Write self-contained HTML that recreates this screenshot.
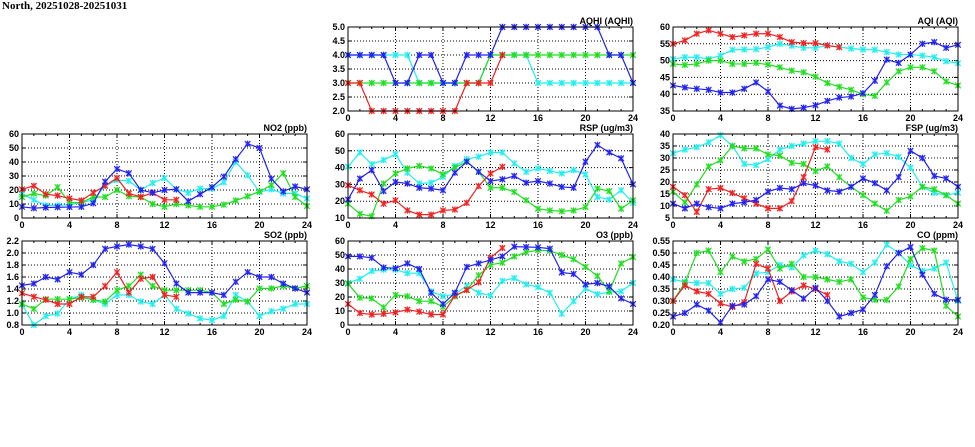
<!DOCTYPE html>
<html><head><meta charset="utf-8"><style>
html,body{margin:0;padding:0;background:#fff;width:975px;height:447px;overflow:hidden}
svg text{font-family:"Liberation Sans",sans-serif;font-weight:bold;font-size:9px;fill:#000}
</style></head><body>
<svg id="s" width="975" height="447" xmlns="http://www.w3.org/2000/svg">
<text x="2" y="9" style="font-family:'Liberation Serif',serif;font-size:11px">North, 20251028-20251031</text>
</svg>
<script>
const C={c:"#22eeee",g:"#22dd22",r:"#ee2222",b:"#2222ee"};
const panels=[
{t:"AQHI (AQHI)",x:348,y:27,lo:2,hi:5,st:0.5,f:1,d:{
c:[4,4,4,4,4,4,3,3,3,3,3,3,4,4,4,4,3,3,3,3,3,3,3,3,3],
g:[3,3,3,3,3,3,3,3,3,3,3,3,4,4,4,4,4,4,4,4,4,4,4,4,4],
r:[3,3,2,2,2,2,2,2,2,2,3,3,3,4],
b:[4,4,4,4,3,3,4,4,3,3,4,4,4,5,5,5,5,5,5,5,5,5,4,4,3]}},
{t:"AQI (AQI)",x:673,y:27,lo:35,hi:60,st:5,f:0,d:{
c:[50.5,51,51,50.5,51.5,53.2,53.3,53.4,54,55,54.4,53.8,53.8,54.5,54,53.6,53.3,53.2,52.5,51.8,51.8,51.5,51,49.8,49.2],
g:[49,48.7,49,50,50,49,49,49.3,48.8,48,47,46.5,45.2,43.3,42.2,41.3,40,39.5,43.5,46.8,48,48,46.8,43.8,42.6],
r:[55,56,58,59,58,57,57.5,58,58,57,55.5,55.2,55.2,54.5,54],
b:[42.6,42,41.6,41.3,40.5,40.5,41.6,43.5,40.8,36.6,35.6,36,36.7,38,39,39.3,40.3,44,50.3,49.3,51.8,55,55.5,53.8,54.7]}},
{t:"NO2 (ppb)",x:22,y:134,lo:0,hi:60,st:10,f:0,d:{
c:[17,13,9,9,9.5,11,13,23,27,26.5,20,25,28.5,20.5,18,21,21,25.5,40,30.5,18.5,20.5,17.5,17.5,14],
g:[15,17.5,16,22,11,11,15,15,20,15.5,15,10,8,10,9,8,8,9.5,12.5,15.5,19,23.5,32,15,8.5],
r:[20.5,23,17,16,14,12.5,18,23,28.5,17.5,15,18,13,13],
b:[8,7,7.5,7.7,7.8,8,10.5,26,35,32,20,18,20,20.5,12,17,22,29.5,42,53,50,28,19,22.5,20.5]}},
{t:"RSP (ug/m3)",x:348,y:134,lo:10,hi:60,st:10,f:0,d:{
c:[40.5,49,42,44.5,48,37,30.5,31,34.5,41,45,46.5,49,49,42.5,37.5,39.5,38,36.5,38.5,36,22.5,21,26.5,19],
g:[18.5,12.5,11,30.5,36.5,39.5,41,39.5,36,40,43.5,37.5,28,28,25.5,20.5,15.5,14.5,14,14.5,16.5,27.5,26,15.5,20.5],
r:[29.5,26.5,24,18.5,20.5,14.5,12,12,14.5,15,19,29,36.5,40.5],
b:[21,33.5,38.5,26,31.5,30.5,28,27.5,26.5,37,43.5,37.5,32,33,35,31,32,30.5,28.5,28,43.5,53.5,49,45.5,30]}},
{t:"FSP (ug/m3)",x:673,y:134,lo:5,hi:40,st:5,f:0,d:{
c:[32,33.5,34.5,36.5,39.5,35,27.5,27,29.5,33.5,35,36,37,37,36,30,27.5,31.5,32,30.5,26,18,15.5,14.5,15.5],
g:[16,11.5,19,26.5,29,35,34,34,31.5,31,28,27.5,24.5,26.5,22,18,14.5,11,8,12.5,14,18,17,14.5,11],
r:[18,14.5,7.5,17,17.5,15.4,13.2,11,9,9,12,22,34.5,33.5],
b:[11,9,11,9.5,9,11,11.5,12.5,16,17.5,17,19.5,18.5,16.5,16,18,21.5,19.5,16.5,22,33,30,22.5,21.5,18]}},
{t:"SO2 (ppb)",x:22,y:241,lo:0.8,hi:2.2,st:0.2,f:1,d:{
c:[1.14,0.8,0.95,0.99,1.23,1.3,1.22,1.15,1.3,1.3,1.19,1.15,1.3,1.07,0.99,0.91,0.88,0.95,1.3,1.19,0.95,1.03,1.07,1.15,1.15],
g:[1.15,1.07,1.23,1.23,1.23,1.26,1.22,1.19,1.38,1.45,1.64,1.45,1.38,1.38,1.38,1.38,1.34,1.15,1.22,1.19,1.41,1.41,1.45,1.41,1.45],
r:[1.33,1.27,1.22,1.15,1.15,1.27,1.27,1.45,1.68,1.34,1.57,1.6,1.3,1.27],
b:[1.46,1.49,1.6,1.56,1.68,1.64,1.8,2.07,2.11,2.14,2.11,2.07,1.83,1.49,1.34,1.34,1.34,1.3,1.52,1.68,1.6,1.6,1.49,1.41,1.34]}},
{t:"O3 (ppb)",x:348,y:241,lo:0,hi:60,st:10,f:0,d:{
c:[30,33,38.5,39.5,39.5,37,37,24,20.5,22,28,23,21,31.5,33.5,29,27,23,8,17,26,22,23.5,24,30],
g:[29.5,19.5,19,12.5,21.5,20.5,17,17,13,20.5,25,35.5,43,44.5,49,52,53.5,53,50,47,41.5,35,24,44,48.5],
r:[15,8.5,7.5,8,9,11,9.5,7.5,7.5,21,25,30.5,48,55],
b:[49,49,48,41,40.5,44,40,23,15,23,41.5,44,46.5,49,56,55.7,55.5,54.5,37.5,36.5,29,30,27.5,19,15]}},
{t:"CO (ppm)",x:673,y:241,lo:0.2,hi:0.55,st:0.05,f:2,d:{
c:[0.39,0.38,0.375,0.375,0.33,0.35,0.355,0.415,0.42,0.45,0.44,0.49,0.51,0.495,0.465,0.455,0.42,0.46,0.535,0.5,0.45,0.425,0.435,0.46,0.3],
g:[0.3,0.375,0.5,0.51,0.42,0.485,0.465,0.475,0.515,0.435,0.455,0.4,0.4,0.39,0.38,0.39,0.315,0.305,0.305,0.36,0.475,0.52,0.51,0.28,0.235],
r:[0.3,0.365,0.34,0.33,0.29,0.275,0.295,0.455,0.435,0.3,0.34,0.365,0.35,0.325],
b:[0.235,0.25,0.285,0.26,0.21,0.28,0.285,0.32,0.39,0.38,0.345,0.31,0.355,0.3,0.235,0.25,0.265,0.325,0.445,0.5,0.525,0.41,0.33,0.305,0.305]}}
];
const W=285,H=84;let o="";
for(const p of panels){
 const X=h=>p.x+h*W/24, Y=v=>p.y+H-(v-p.lo)/(p.hi-p.lo)*H;
 o+=`<text x="${p.x+W}" y="${p.y-3}" text-anchor="end">${p.t}</text>`;
 const n=Math.round((p.hi-p.lo)/p.st);
 for(let i=0;i<=n;i++){const v=p.lo+i*p.st,y=Y(v);
  if(i>0&&i<n)o+=`<line x1="${p.x}" x2="${p.x+W}" y1="${y}" y2="${y}" stroke="#000" stroke-width="1" stroke-dasharray="1,2"/>`;
  o+=`<line x1="${p.x}" x2="${p.x+4}" y1="${y}" y2="${y}" stroke="#000"/><line x1="${p.x+W-4}" x2="${p.x+W}" y1="${y}" y2="${y}" stroke="#000"/>`;
  o+=`<text x="${p.x-3}" y="${y+3}" text-anchor="end">${v.toFixed(p.f)}</text>`;}
 for(let h=0;h<=24;h++){const x=X(h);
  if(h%4==0){if(h>0&&h<24)o+=`<line x1="${x}" x2="${x}" y1="${p.y}" y2="${p.y+H}" stroke="#000" stroke-dasharray="1,2"/>`;
   o+=`<text x="${x}" y="${p.y+H+10}" text-anchor="middle">${h}</text>`;}
  const t=h%4==0?4:2;
  o+=`<line x1="${x}" x2="${x}" y1="${p.y+H}" y2="${p.y+H-t}" stroke="#000"/><line x1="${x}" x2="${x}" y1="${p.y}" y2="${p.y+t}" stroke="#000"/>`;}
 for(const k of ["c","g","r","b"]){const a=p.d[k];let pts=[];
  a.forEach((v,h)=>{if(v!=null)pts.push([X(h),Y(v)])});
  o+=`<polyline fill="none" stroke="${C[k]}" stroke-width="1.2" points="${pts.map(q=>q.join(",")).join(" ")}"/>`;
  for(const[x,y]of pts){o+=`<rect x="${x-2.5}" y="${y-2.5}" width="5" height="5" fill="${C[k]}" opacity="0.35"/><path d="M${x-2.8} ${y-2.8}L${x+2.8} ${y+2.8}M${x+2.8} ${y-2.8}L${x-2.8} ${y+2.8}M${x} ${y-3.2}V${y+3.2}" stroke="${C[k]}" stroke-width="1.1"/>`;}}
 o+=`<rect x="${p.x}" y="${p.y}" width="${W}" height="${H}" fill="none" stroke="#000" stroke-width="1"/>`;
}
document.getElementById("s").insertAdjacentHTML("beforeend",o);
</script>
</body></html>
